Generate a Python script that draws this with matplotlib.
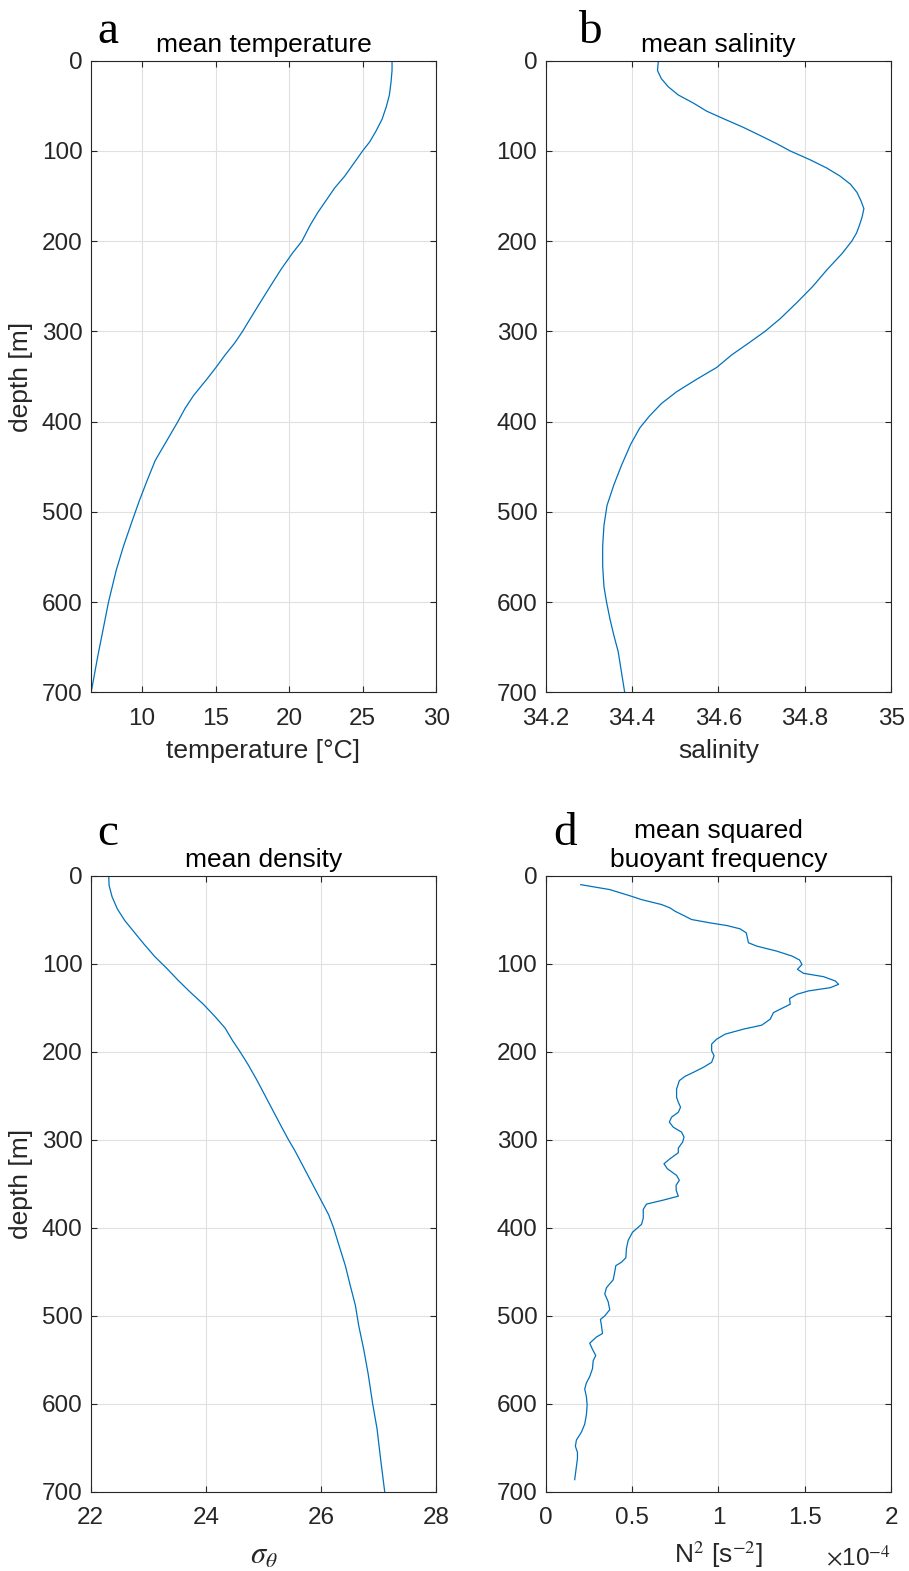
import numpy as np
import matplotlib.pyplot as plt
from matplotlib.ticker import FuncFormatter

# mean temperature profile
depth_t = [0, 11, 24, 38, 51, 65, 78, 90, 100, 114, 128, 141, 155, 168, 182,
           200, 213, 231, 250, 268, 286, 300, 313, 326, 340, 353, 371, 385,
           400, 421, 443, 466, 488, 511, 538, 565, 600, 628, 660, 700]
temp = [27.0, 27.0, 26.93, 26.82, 26.61, 26.32, 25.91, 25.48, 25.0, 24.39,
        23.78, 23.10, 22.51, 21.96, 21.44, 20.87, 20.24, 19.46, 18.72, 18.03,
        17.35, 16.83, 16.29, 15.65, 15.02, 14.40, 13.50, 12.93, 12.43, 11.68,
        10.89, 10.32, 9.80, 9.30, 8.73, 8.23, 7.71, 7.37, 6.98, 6.53]

# mean salinity profile
depth_s = [0, 11, 20, 29, 38, 47, 56, 65, 74, 83, 92, 100, 110, 119, 128,
           137, 146, 155, 164, 173, 182, 191, 200, 214, 232, 250, 268, 286,
           300, 313, 326, 340, 353, 367, 380, 394, 407, 425, 448, 470, 493,
           515, 538, 560, 583, 600, 619, 637, 655, 673, 700]
salt = [34.461, 34.459, 34.468, 34.484, 34.507, 34.542, 34.573, 34.615,
        34.658, 34.697, 34.735, 34.766, 34.813, 34.851, 34.882, 34.906,
        34.921, 34.930, 34.937, 34.933, 34.927, 34.920, 34.909, 34.886,
        34.851, 34.819, 34.782, 34.743, 34.708, 34.670, 34.631, 34.596,
        34.550, 34.503, 34.468, 34.440, 34.418, 34.397, 34.376, 34.358,
        34.342, 34.335, 34.332, 34.332, 34.335, 34.341, 34.349, 34.358,
        34.368, 34.374, 34.383]

# mean potential density anomaly
depth_d = [0, 11, 24, 38, 51, 65, 78, 92, 105, 119, 132, 146, 160, 173, 187,
           200, 214, 232, 250, 268, 286, 300, 313, 331, 349, 367, 385, 400,
           421, 443, 466, 488, 511, 538, 565, 600, 628, 664, 700]
sigma = [22.313, 22.319, 22.371, 22.464, 22.592, 22.766, 22.929, 23.114,
         23.317, 23.521, 23.724, 23.956, 24.159, 24.333, 24.461, 24.594,
         24.728, 24.885, 25.030, 25.175, 25.320, 25.436, 25.552, 25.697,
         25.842, 25.987, 26.132, 26.219, 26.318, 26.423, 26.510, 26.597,
         26.655, 26.742, 26.817, 26.898, 26.973, 27.038, 27.107]

# mean squared buoyancy frequency, in units of 1e-4 s^-2
depth_n = [10.2, 15.8, 23.4, 27.2, 32.8, 36.6, 40.4, 46, 49.8, 53.6, 56.6,
           60.4, 64.9, 70.6, 76.2, 80, 85.7, 91.3, 95.8, 100.8, 106.4, 110.9,
           114.7, 119.6, 123.4, 127.2, 130.9, 134.7, 139.6, 146, 149.8, 155.5,
           163, 169.8, 174.3, 180, 185.7, 191.3, 198.9, 204.5, 212, 217.7,
           223.4, 227.9, 232.8, 242.3, 251.7, 257.4, 263, 268.7, 274.3, 279.9,
           285.7, 291.3, 297, 302.6, 309.4, 314.7, 321.5, 327.2, 332.8, 340.4,
           346, 351.7, 357.5, 364, 368.5, 373, 379, 389, 396, 405, 414, 423,
           434, 439, 443, 450, 459, 468, 475, 484, 493, 500, 504, 511, 520,
           524, 531, 538, 545, 551, 560, 569, 576, 583, 592, 601, 612, 623,
           632, 641, 648, 655, 662, 671, 686]
n2 = [0.203, 0.371, 0.497, 0.555, 0.671, 0.72, 0.749, 0.807, 0.845, 0.952,
      1.048, 1.126, 1.161, 1.168, 1.174, 1.222, 1.338, 1.426, 1.470, 1.484,
      1.458, 1.493, 1.609, 1.677, 1.696, 1.648, 1.522, 1.455, 1.412, 1.416,
      1.377, 1.319, 1.300, 1.251, 1.145, 1.039, 0.990, 0.961, 0.961, 0.975,
      0.961, 0.913, 0.855, 0.807, 0.774, 0.758, 0.758, 0.768, 0.781, 0.768,
      0.729, 0.716, 0.739, 0.787, 0.801, 0.793, 0.768, 0.768, 0.72, 0.685,
      0.704, 0.758, 0.774, 0.755, 0.756, 0.768, 0.681, 0.584, 0.565, 0.565,
      0.555, 0.503, 0.478, 0.468, 0.464, 0.439, 0.406, 0.400, 0.391, 0.352,
      0.342, 0.362, 0.371, 0.342, 0.317, 0.323, 0.329, 0.294, 0.255, 0.271,
      0.290, 0.275, 0.271, 0.255, 0.236, 0.226, 0.236, 0.240, 0.236, 0.226,
      0.207, 0.178, 0.172, 0.184, 0.184, 0.178, 0.168]

plt.rcParams['font.family'] = ['Liberation Sans', 'DejaVu Sans']
plt.rcParams['mathtext.fontset'] = 'stix'

line_col = '#0072BD'
ax_col = '0.15'

fig = plt.figure(figsize=(9.09, 15.71), dpi=100)

W = 0.3800
pos = {
    'a': [0.0998, 0.5593, W, 0.4021],
    'b': [0.6003, 0.5593, W, 0.4021],
    'c': [0.0998, 0.0503, W, 0.3923],
    'd': [0.6003, 0.0503, W, 0.3923],
}


def style(ax):
    ax.set_ylim(700, 0)
    ax.set_yticks(np.arange(0, 701, 100))
    ax.grid(True, color='0.88', lw=0.8)
    ax.set_axisbelow(True)
    ax.tick_params(direction='in', top=True, right=True, length=4.5,
                   width=0.8, labelsize=17.5, colors=ax_col, pad=6)
    ax.tick_params(axis='x', pad=11)
    for sp in ax.spines.values():
        sp.set_color(ax_col)
        sp.set_linewidth(0.8)
    ax.xaxis.set_major_formatter(FuncFormatter(lambda v, p: '%g' % v))


def letter(ax, s, x, y):
    ax.text(x, y, s, transform=ax.transAxes, fontsize=34,
            family='Liberation Serif', ha='left', va='baseline')


ax = fig.add_axes(pos['a'])
ax.plot(temp, depth_t, color=line_col, lw=0.9)
style(ax)
ax.set_xlim(6.5, 30)
ax.set_xticks([10, 15, 20, 25, 30])
ax.set_xlabel('temperature [°C]', fontsize=19, color=ax_col, labelpad=7)
ax.set_ylabel('depth [m]', fontsize=19, color=ax_col, labelpad=6)
ax.set_title('mean temperature', fontsize=19, pad=6)
letter(ax, 'a', 0.018, 1.028)

ax = fig.add_axes(pos['b'])
ax.plot(salt, depth_s, color=line_col, lw=0.9)
style(ax)
ax.set_xlim(34.2, 35)
ax.set_xticks([34.2, 34.4, 34.6, 34.8, 35])
ax.set_xlabel('salinity', fontsize=19, color=ax_col, labelpad=7)
ax.set_title('mean salinity', fontsize=19, pad=6)
letter(ax, 'b', 0.093, 1.028)

ax = fig.add_axes(pos['c'])
ax.plot(sigma, depth_d, color=line_col, lw=0.9)
style(ax)
ax.set_xlim(22, 28)
ax.set_xticks([22, 24, 26, 28])
ax.set_xlabel(r'$\sigma_\theta$', fontsize=22, color=ax_col, labelpad=8)
ax.set_ylabel('depth [m]', fontsize=19, color=ax_col, labelpad=6)
ax.set_title('mean density', fontsize=19, pad=6)
letter(ax, 'c', 0.018, 1.05)

ax = fig.add_axes(pos['d'])
ax.plot(n2, depth_n, color=line_col, lw=0.9)
style(ax)
ax.set_xlim(0, 2)
ax.set_xticks([0, 0.5, 1, 1.5, 2])
ax.set_xlabel(r'N$^2$ [s$^{-2}$]', fontsize=19, color=ax_col, labelpad=7.5)
ax.text(1.0, -0.12, r'$\times$10$^{-4}$', transform=ax.transAxes,
        fontsize=17.5, color=ax_col, ha='right', va='baseline')
ax.set_title('mean squared\nbuoyant frequency', fontsize=19, pad=6,
             linespacing=1.3)
letter(ax, 'd', 0.022, 1.05)

fig.savefig('out.png', dpi=100)
